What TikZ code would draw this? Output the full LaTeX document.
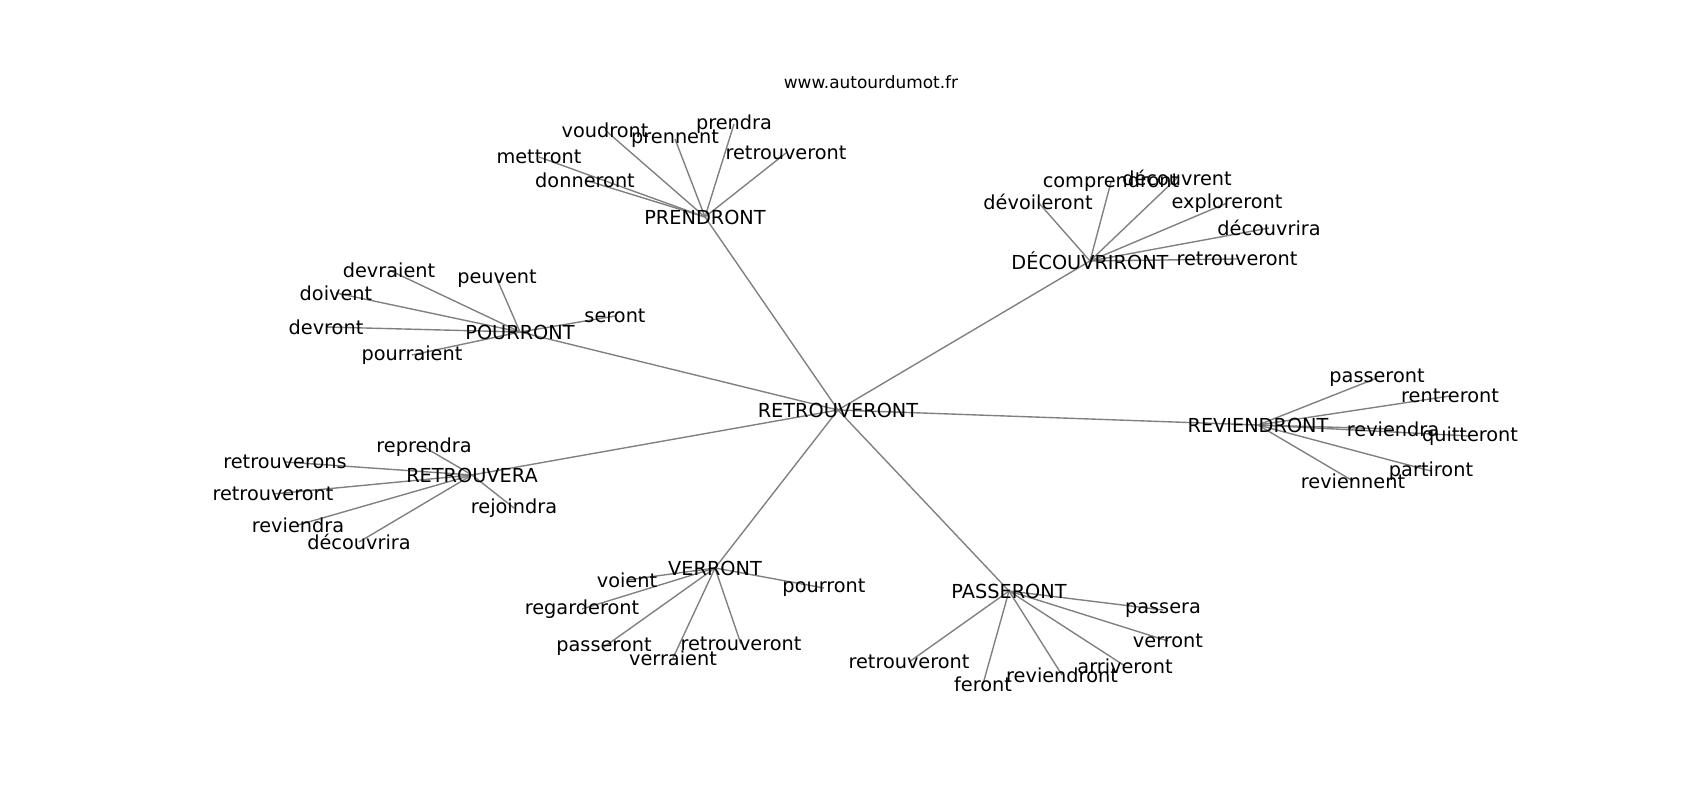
\documentclass[tikz,border=0pt]{standalone}
\usepackage{fontspec}
\setmainfont{DejaVu Sans}
\usetikzlibrary{backgrounds}

\begin{document}
\begin{tikzpicture}[x=0.72pt, y=-0.72pt]

\tikzset{word/.style = {font=\fontsize{13.9}{16}\selectfont, inner sep=0pt}}
\tikzset{edge/.style = {draw=gray, line width=1pt}}

\useasboundingbox (0,0) rectangle (1700,800);

\node[font=\fontsize{12.2}{14}\selectfont, inner sep=0pt] (title) at (871,82) {www.autourdumot.fr};

\node[word] (rtv) at (838,410) {RETROUVERONT};

\node[word] (pdr) at (705,217) {PRENDRONT};
\node[word] (pdr1) at (605,130) {voudront};
\node[word] (pdr2) at (675,139) {prennent};
\node[word] (pdr3) at (734,124) {prendra};
\node[word] (pdr4) at (786,153) {retrouveront};
\node[word] (pdr5) at (539,157) {mettront};
\node[word] (pdr6) at (585,180) {donneront};

\node[word] (dcv) at (1090,261) {DÉCOUVRIRONT};
\node[word] (dcv1) at (1038,202) {dévoileront};
\node[word] (dcv2) at (1111,182) {comprendront};
\node[word] (dcv3) at (1177,178) {découvrent};
\node[word] (dcv4) at (1227,203) {exploreront};
\node[word] (dcv5) at (1269,228) {découvrira};
\node[word] (dcv6) at (1237,259) {retrouveront};

\node[word] (prr) at (520,332) {POURRONT};
\node[word] (prr1) at (389,270) {devraient};
\node[word] (prr2) at (497,279) {peuvent};
\node[word] (prr3) at (336,293) {doivent};
\node[word] (prr4) at (326,327) {devront};
\node[word] (prr5) at (615,316) {seront};
\node[word] (prr6) at (412,355) {pourraient};

\node[word] (rta) at (472,475) {RETROUVERA};
\node[word] (rta1) at (424,447) {reprendra};
\node[word] (rta2) at (285,462) {retrouverons};
\node[word] (rta3) at (273,494) {retrouveront};
\node[word] (rta4) at (298,525) {reviendra};
\node[word] (rta5) at (359,542) {découvrira};
\node[word] (rta6) at (514,508) {rejoindra};

\node[word] (vrr) at (715,568) {VERRONT};
\node[word] (vrr1) at (627,580) {voient};
\node[word] (vrr2) at (582,609) {regarderont};
\node[word] (vrr3) at (604,647) {passeront};
\node[word] (vrr4) at (673,658) {verraient};
\node[word] (vrr5) at (741,644) {retrouveront};
\node[word] (vrr6) at (824,588) {pourront};

\node[word] (psr) at (1009,591) {PASSERONT};
\node[word] (psr1) at (1163,610) {passera};
\node[word] (psr2) at (1168,641) {verront};
\node[word] (psr3) at (1125,666) {arriveront};
\node[word] (psr4) at (1062,675) {reviendront};
\node[word] (psr5) at (983,684) {feront};
\node[word] (psr6) at (909,662) {retrouveront};

\node[word] (rvd) at (1258,425) {REVIENDRONT};
\node[word] (rvd1) at (1377,378) {passeront};
\node[word] (rvd2) at (1450,396) {rentreront};
\node[word] (rvd3) at (1393,429) {reviendra};
\node[word] (rvd4) at (1470,436) {quitteront};
\node[word] (rvd5) at (1431,471) {partiront};
\node[word] (rvd6) at (1353,481) {reviennent};

\begin{pgfonlayer}{background}
\draw[edge] (rtv.center) -- (pdr.center);
\draw[edge] (rtv.center) -- (dcv.center);
\draw[edge] (rtv.center) -- (prr.center);
\draw[edge] (rtv.center) -- (rta.center);
\draw[edge] (rtv.center) -- (vrr.center);
\draw[edge] (rtv.center) -- (psr.center);
\draw[edge] (rtv.center) -- (rvd.center);

\draw[edge] (pdr.center) -- (pdr1.center);
\draw[edge] (pdr.center) -- (pdr2.center);
\draw[edge] (pdr.center) -- (pdr3.center);
\draw[edge] (pdr.center) -- (pdr4.center);
\draw[edge] (pdr.center) -- (pdr5.center);
\draw[edge] (pdr.center) -- (pdr6.center);

\draw[edge] (dcv.center) -- (dcv1.center);
\draw[edge] (dcv.center) -- (dcv2.center);
\draw[edge] (dcv.center) -- (dcv3.center);
\draw[edge] (dcv.center) -- (dcv4.center);
\draw[edge] (dcv.center) -- (dcv5.center);
\draw[edge] (dcv.center) -- (dcv6.center);

\draw[edge] (prr.center) -- (prr1.center);
\draw[edge] (prr.center) -- (prr2.center);
\draw[edge] (prr.center) -- (prr3.center);
\draw[edge] (prr.center) -- (prr4.center);
\draw[edge] (prr.center) -- (prr5.center);
\draw[edge] (prr.center) -- (prr6.center);

\draw[edge] (rta.center) -- (rta1.center);
\draw[edge] (rta.center) -- (rta2.center);
\draw[edge] (rta.center) -- (rta3.center);
\draw[edge] (rta.center) -- (rta4.center);
\draw[edge] (rta.center) -- (rta5.center);
\draw[edge] (rta.center) -- (rta6.center);

\draw[edge] (vrr.center) -- (vrr1.center);
\draw[edge] (vrr.center) -- (vrr2.center);
\draw[edge] (vrr.center) -- (vrr3.center);
\draw[edge] (vrr.center) -- (vrr4.center);
\draw[edge] (vrr.center) -- (vrr5.center);
\draw[edge] (vrr.center) -- (vrr6.center);

\draw[edge] (psr.center) -- (psr1.center);
\draw[edge] (psr.center) -- (psr2.center);
\draw[edge] (psr.center) -- (psr3.center);
\draw[edge] (psr.center) -- (psr4.center);
\draw[edge] (psr.center) -- (psr5.center);
\draw[edge] (psr.center) -- (psr6.center);

\draw[edge] (rvd.center) -- (rvd1.center);
\draw[edge] (rvd.center) -- (rvd2.center);
\draw[edge] (rvd.center) -- (rvd3.center);
\draw[edge] (rvd.center) -- (rvd4.center);
\draw[edge] (rvd.center) -- (rvd5.center);
\draw[edge] (rvd.center) -- (rvd6.center);
\end{pgfonlayer}

\end{tikzpicture}
\end{document}
